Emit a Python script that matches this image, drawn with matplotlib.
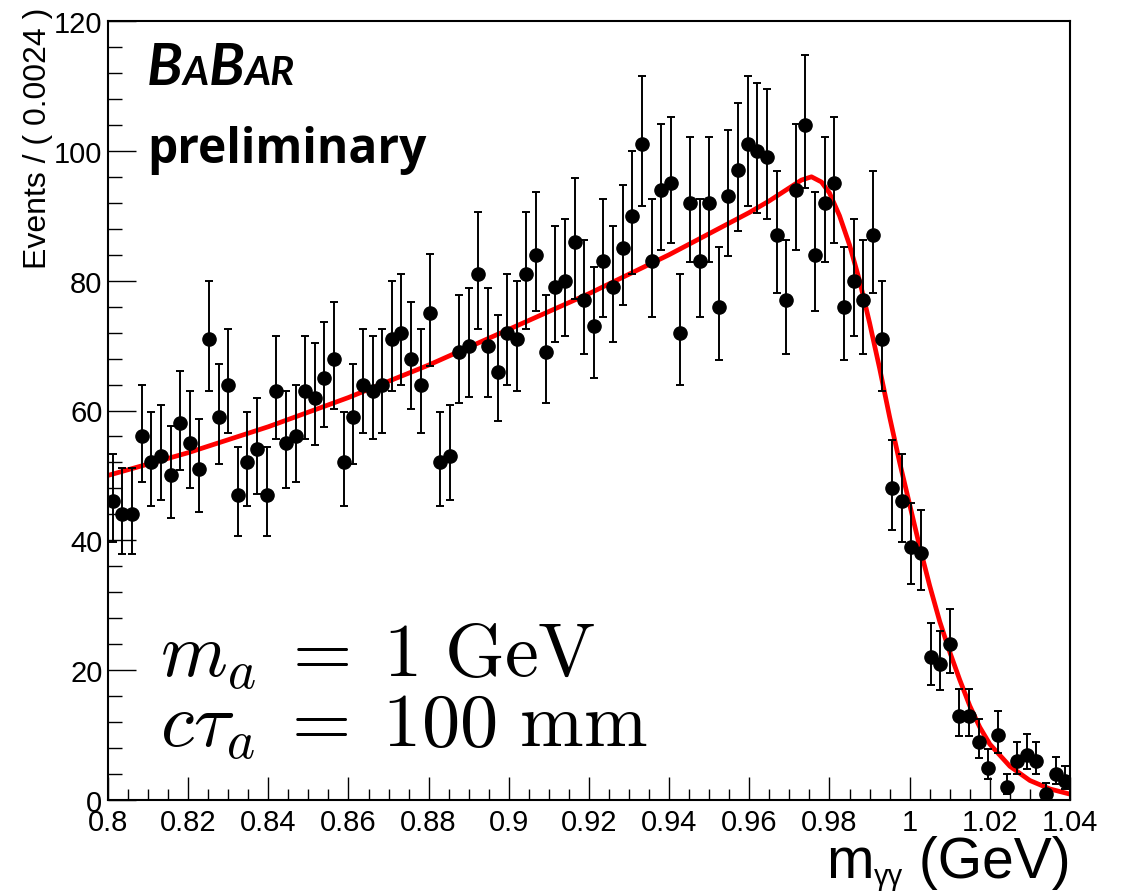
import numpy as np
import matplotlib
matplotlib.use("Agg")
import matplotlib.pyplot as plt
from matplotlib.ticker import MultipleLocator

# ---------------- data ----------------
x_min, x_max, n_bins = 0.8, 1.04, 100
counts = [46, 44, 44, 56, 52, 53, 50, 58, 55, 51,
          71, 59, 64, 47, 52, 54, 47, 63, 55, 56,
          63, 62, 65, 68, 52, 59, 64, 63, 64, 71,
          72, 68, 64, 75, 52, 53, 69, 70, 81, 70,
          66, 72, 71, 81, 84, 69, 79, 80, 86, 77,
          73, 83, 79, 85, 90, 101, 83, 94, 95, 72,
          92, 83, 92, 76, 93, 97, 101, 100, 99, 87,
          77, 94, 104, 84, 92, 95, 76, 80, 77, 87,
          71, 48, 46, 39, 38, 22, 21, 24, 13, 13,
          9, 5, 10, 2, 6, 7, 6, 1, 4, 3]

fit_x = [0.800, 0.820, 0.840, 0.860, 0.880, 0.900, 0.920, 0.940, 0.960,
         0.965, 0.970, 0.973, 0.9755, 0.978, 0.980, 0.9825, 0.985, 0.9875,
         0.990, 0.9925, 0.995, 0.9975, 1.000, 1.0025, 1.005, 1.0075, 1.010,
         1.0125, 1.015, 1.0175, 1.020, 1.025, 1.030, 1.035, 1.040]
fit_y = [50.0, 53.5, 57.5, 62.0, 67.0, 72.5, 78.0, 84.0, 90.5,
         92.3, 94.3, 95.5, 96.0, 95.2, 93.5, 90.0, 85.5, 80.0,
         73.5, 66.5, 59.0, 52.0, 45.5, 39.0, 33.0, 27.5, 22.8,
         18.5, 14.5, 11.2, 8.6, 5.2, 3.0, 1.7, 0.9]

x_ticks = [0.80, 0.82, 0.84, 0.86, 0.88, 0.90, 0.92, 0.94, 0.96, 0.98, 1.00, 1.02, 1.04]
x_tick_labels = ["0.8", "0.82", "0.84", "0.86", "0.88", "0.9", "0.92", "0.94",
                 "0.96", "0.98", "1", "1.02", "1.04"]
y_ticks = [0, 20, 40, 60, 80, 100, 120]
y_tick_labels = ["0", "20", "40", "60", "80", "100", "120"]

# ---------------- plot ----------------
plt.rcParams['font.family'] = ['Liberation Sans', 'DejaVu Sans']
plt.rcParams['mathtext.fontset'] = 'cm'

W, H = 1127, 895
fig = plt.figure(figsize=(W / 100, H / 100), dpi=100)
ax = fig.add_axes([108 / W, 94 / H, 962 / W, 779 / H])

bin_width = (x_max - x_min) / n_bins
centers = x_min + bin_width * (np.arange(n_bins) + 0.5)
n = np.array(counts, dtype=float)
err_lo = np.sqrt(n + 0.25) - 0.5
err_hi = np.sqrt(n + 0.25) + 0.5

ax.plot(fit_x, fit_y, color='#ff0000', lw=3.4, zorder=2, solid_capstyle='round')
ax.errorbar(centers, n, yerr=[err_lo, err_hi], fmt='o', color='black',
            ms=9.5, elinewidth=1.4, capsize=3, capthick=1.4, zorder=3)

ax.set_xlim(x_min, x_max)
ax.set_ylim(0, 120)
ax.set_xticks(x_ticks)
ax.set_xticklabels(x_tick_labels)
ax.set_yticks(y_ticks)
ax.set_yticklabels(y_tick_labels)
ax.xaxis.set_minor_locator(MultipleLocator(0.005))
ax.yaxis.set_minor_locator(MultipleLocator(4))
ax.tick_params(axis='x', which='major', direction='in', length=16.5, width=1.0,
               labelsize=21, pad=6, top=False)
ax.tick_params(axis='x', which='minor', direction='in', length=8, width=1.0, top=False)
ax.tick_params(axis='y', which='major', direction='in', length=20, width=1.0,
               labelsize=21, pad=4, right=False)
ax.tick_params(axis='y', which='minor', direction='in', length=10, width=1.0, right=False)
for s in ax.spines.values():
    s.set_linewidth(1.5)

fig.text(38 / W, 1 - 8 / H, "Events / ( 0.0024 )", rotation=90, ha='center',
         va='top', fontsize=23)

# x-axis title: m_{γγ} (GeV), upright gamma subscript
xl_y = 1 - 878 / H
xl1 = fig.text(826 / W, xl_y, "m", ha='left', va='baseline', fontsize=41)
xl2 = ax.annotate("γγ", xy=(1, xl_y - 7 / H), xycoords=(xl1, fig.transFigure),
                  fontsize=21, va='baseline', annotation_clip=False)
xl3 = ax.annotate(" (GeV)", xy=(1, xl_y), xycoords=(xl2, fig.transFigure),
                  fontsize=41, va='baseline', annotation_clip=False)

# BABAR logo
lb_y = 0.919
logo_kw = dict(family='Lato', weight='bold', style='italic', va='baseline')
t1 = ax.text(0.0405, lb_y, "B", transform=ax.transAxes, fontsize=42, **logo_kw)
t2 = ax.annotate("A", xy=(1, lb_y), xycoords=(t1, ax.transAxes), fontsize=29, **logo_kw)
t3 = ax.annotate("B", xy=(1, lb_y), xycoords=(t2, ax.transAxes), fontsize=42, **logo_kw)
t4 = ax.annotate("AR", xy=(1, lb_y), xycoords=(t3, ax.transAxes), fontsize=29, **logo_kw)
ax.text(0.0405, 0.819, "preliminary", transform=ax.transAxes, fontsize=34.5,
        family='Open Sans', weight='bold', va='baseline')

ax.text(0.054, 0.159, r"$m_a\;=\;1\ \mathrm{GeV}$", transform=ax.transAxes,
        fontsize=55, va='baseline')
ax.text(0.054, 0.069, r"$c\tau_a\;=\;100\ \mathrm{mm}$", transform=ax.transAxes,
        fontsize=55, va='baseline')

fig.savefig("out.png", dpi=100)
